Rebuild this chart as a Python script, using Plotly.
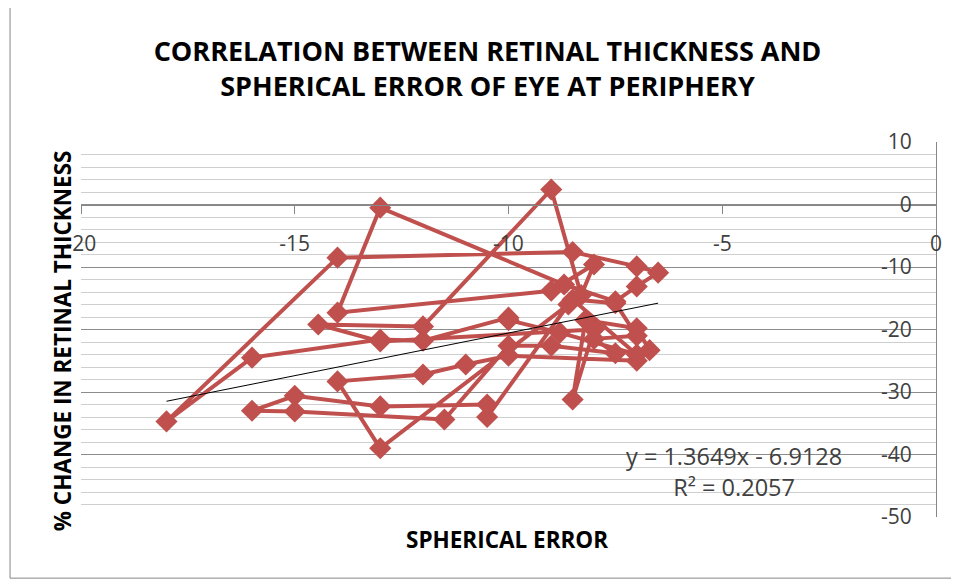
import plotly.graph_objects as go

# Data: spherical error (x) and % change in retinal thickness (y), in drawing order
spherical_error = [-10.0, -12.0, -13.0, -16.0, -18.0, -14.0, -8.5, -7.0, -6.5, -7.0,
                   -7.5, -8.7, -13.0, -14.0, -9.0, -8.0, -8.3, -9.0, -12.0, -14.45,
                   -13.0, -8.0, -8.5, -8.2, -7.0, -6.7, -7.0, -10.0, -11.0, -12.0,
                   -14.0, -13.0, -8.6, -10.5, -10.5, -13.0, -15.0, -16.0, -15.0, -11.5,
                   -10.0, -9.0, -7.5, -8.0, -7.0, -7.5, -8.5, -7.0, -8.8, -10.0]
thickness_change = [-18.1, -21.8, -21.6, -24.5, -34.7, -8.5, -7.6, -9.9, -10.9, -13.1,
                    -15.5, -12.8, -0.5, -17.3, -13.8, -9.6, -14.5, 2.4, -19.5, -19.2,
                    -21.9, -20.0, -31.2, -18.5, -19.8, -23.3, -25.0, -24.2, -25.6, -27.2,
                    -28.3, -39.0, -16.0, -34.0, -32.0, -32.3, -30.6, -33.0, -33.1, -34.4,
                    -22.6, -22.6, -23.8, -21.5, -21.0, -15.8, -15.2, -24.0, -20.5, -18.5]

# Linear trendline shown in the chart
trend_slope = 1.3649
trend_intercept = -6.9128
trend_x = [-18.0, -6.5]
trend_y = [trend_slope * v + trend_intercept for v in trend_x]

x_ticks = [-20, -15, -10, -5, 0]
y_ticks = [-50, -40, -30, -20, -10, 0, 10]

RED = "#C0504D"
FONT = "Open Sans"

fig = go.Figure()
fig.add_trace(go.Scatter(
    x=spherical_error, y=thickness_change, mode="lines+markers",
    line=dict(color=RED, width=4),
    marker=dict(symbol="diamond", size=17, color=RED),
    showlegend=False, hoverinfo="skip"))
fig.add_trace(go.Scatter(
    x=trend_x, y=trend_y, mode="lines",
    line=dict(color="black", width=1),
    showlegend=False, hoverinfo="skip"))

y0_frac = (0 - (-50)) / (10 - (-50))

fig.update_layout(
    width=959, height=581,
    margin=dict(l=73, r=31, t=134, b=72, autoexpand=False),
    paper_bgcolor="white", plot_bgcolor="white",
    font=dict(family=FONT, color="#404040"),
    title=dict(text="CORRELATION BETWEEN RETINAL THICKNESS AND<br>SPHERICAL ERROR OF EYE AT PERIPHERY",
               x=0.5, xanchor="center", y=0.909, yanchor="top",
               font=dict(family=FONT, size=27, color="black", weight="bold")),
    xaxis=dict(range=[-20, 0], tickvals=x_ticks, ticktext=[str(v) for v in x_ticks],
               anchor="free", position=y0_frac, showgrid=False, zeroline=False,
               showline=True, linecolor="#868686", linewidth=1, automargin=False,
               ticks="outside", ticklen=8, tickcolor="#868686",
               ticklabelstandoff=12,
               tickfont=dict(family=FONT, size=21, color="#404040")),
    yaxis=dict(range=[-50, 10], tickvals=y_ticks, ticktext=[str(v) for v in y_ticks],
               side="left", anchor="free", position=1.0,
               ticks="", ticklabelstandoff=20, automargin=False,
               showline=True, linecolor="#868686", linewidth=1,
               zeroline=False, showgrid=True, gridcolor="#8c8c8c", gridwidth=1,
               minor=dict(dtick=2, showgrid=True, gridcolor="#cfcfcf", gridwidth=1),
               tickfont=dict(family=FONT, size=21, color="#404040")),
    annotations=[
        dict(text="<b>% CHANGE IN RETINAL THICKNESS</b>", xref="paper", yref="paper",
             x=-0.022, y=0.469, xanchor="center", yanchor="middle", textangle=-90,
             showarrow=False, font=dict(family=FONT, size=22.5, color="black")),
        dict(text="<b>SPHERICAL ERROR</b>", xref="paper", yref="paper",
             x=0.498, y=-0.061, xanchor="center", yanchor="middle",
             showarrow=False, font=dict(family=FONT, size=22.5, color="black")),
        dict(text="y = 1.3649x - 6.9128<br>R² = 0.2057", xref="x", yref="y",
             x=-4.72, y=-42.7, xanchor="center", yanchor="middle", align="center",
             showarrow=False, font=dict(family=FONT, size=23.5, color="#404040")),
    ],
    shapes=[dict(type="rect", xref="paper", yref="paper", x0=-0.083, x1=1.019, y0=-0.163, y1=1.376,
                 line=dict(color="#868686", width=1))],
)

fig.write_html("out.html")
